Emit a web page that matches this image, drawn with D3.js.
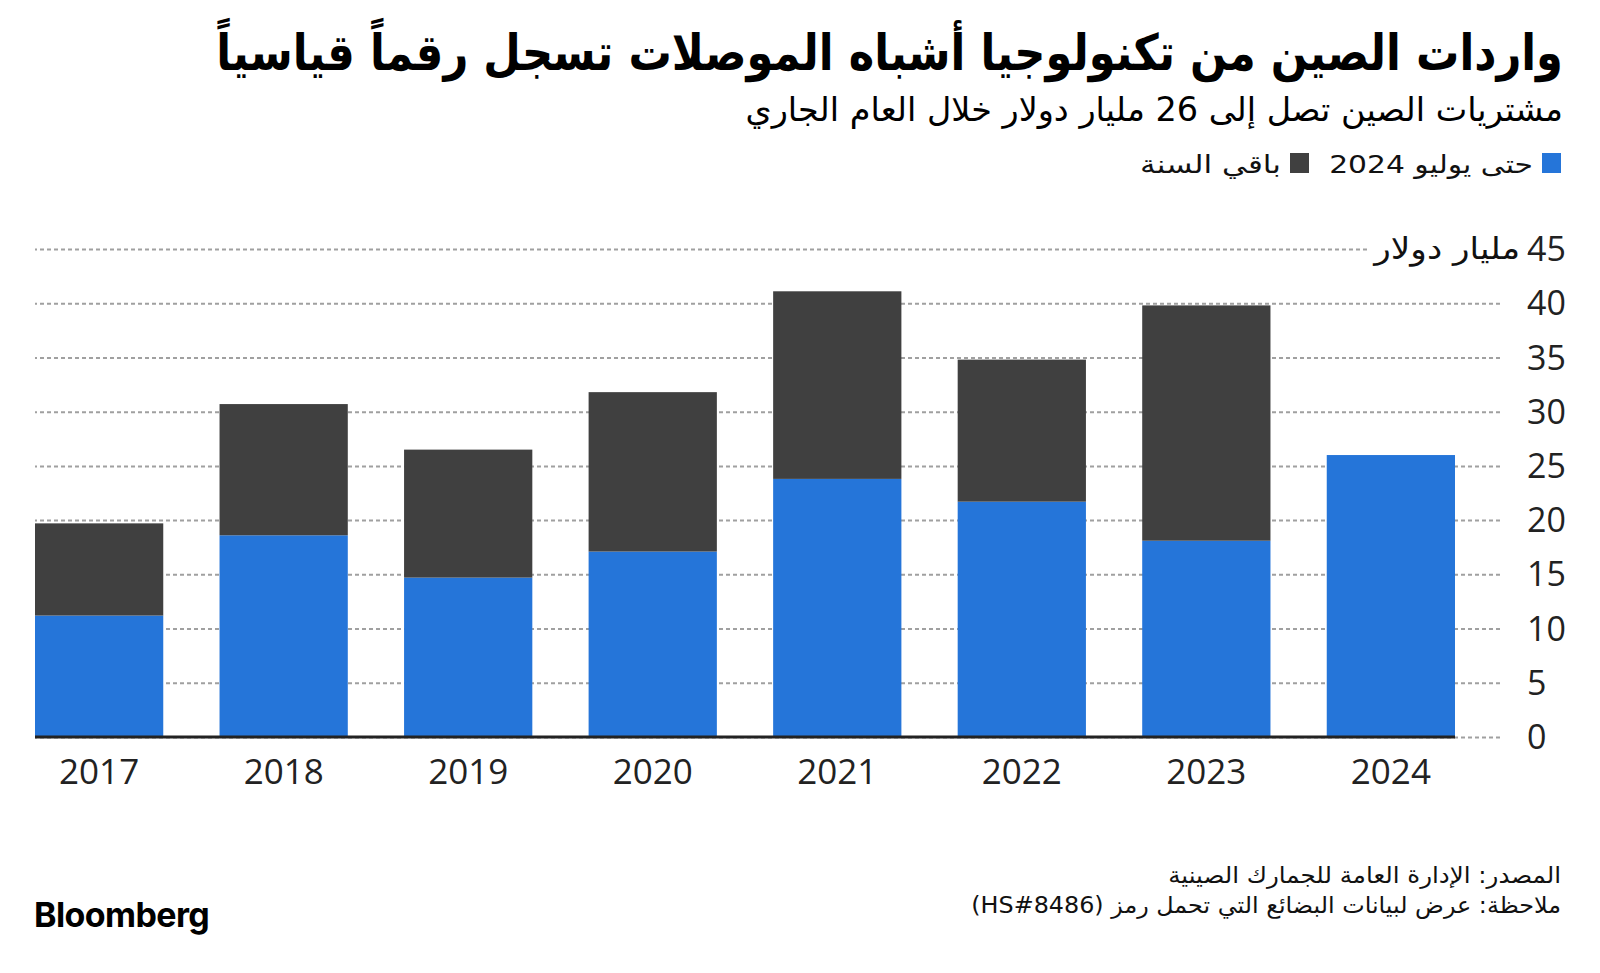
<!DOCTYPE html>
<html>
<head>
<meta charset="utf-8">
<script src="https://cdn.jsdelivr.net/npm/d3@7"></script>
<style>
  html, body { margin: 0; padding: 0; background: #fff; }
  svg { display: block; }
  .ar { font-family: "DejaVu Sans", sans-serif; }
  .num { font-family: "Open Sans", "Noto Sans", sans-serif; }
</style>
</head>
<body>
<svg id="chart" width="1600" height="973"></svg>
<script>
// ---- data ----
const years = ["2017", "2018", "2019", "2020", "2021", "2022", "2023", "2024"];
const throughJuly = [11.2, 18.6, 14.7, 17.1, 23.8, 21.7, 18.1, 26.0];
const restOfYear  = [8.5, 12.1, 11.8, 14.7, 17.3, 13.1, 21.7, 0];
const yTicks = [0, 5, 10, 15, 20, 25, 30, 35, 40, 45];
const seriesNames = ["حتى يوليو 2024", "باقي السنة"];
const titleText = "واردات الصين من تكنولوجيا أشباه الموصلات تسجل رقماً قياسياً";
const subtitleText = "مشتريات الصين تصل إلى 26 مليار دولار خلال العام الجاري";
const unitText = "مليار دولار";
const sourceText = "المصدر: الإدارة العامة للجمارك الصينية";
const noteText = "ملاحظة: عرض لبيانات البضائع التي تحمل رمز (HS#8486)";

const colors = ["#2575D9", "#404040"];

const svg = d3.select("#chart");

// ---- helper for fitting RTL text into a measured width, right-aligned ----
function fitText(txt, right, baseline, size, weight, targetW, color) {
  const g = svg.append("g");
  const t = g.append("text").attr("class", "ar").attr("direction", "rtl")
    .attr("unicode-bidi", "embed").attr("x", 0).attr("y", 0)
    .attr("font-size", size).attr("font-weight", weight).attr("fill", color).text(txt);
  const b = t.node().getBBox();
  const s = targetW ? targetW / b.width : 1;
  g.attr("transform", `translate(${right - s * (b.x + b.width)},${baseline}) scale(${s},1)`);
  return { g, b, s };
}

// ---- scales ----
const plotLeft = 35, plotRight = 1455, gridRight = 1500;
const y = d3.scaleLinear().domain([0, 45]).range([737, 249]);
const x = d3.scaleBand().domain(years).range([plotLeft, plotRight]).paddingInner(0.305).paddingOuter(0);

// ---- grid / y axis ----
const yAxis = d3.axisRight(y).tickValues(yTicks).tickSize(-(gridRight - plotLeft)).tickPadding(27);
const gy = svg.append("g").attr("transform", `translate(${gridRight},0)`).call(yAxis);
gy.select(".domain").remove();
gy.selectAll(".tick line").attr("stroke", "#a0a0a0").attr("stroke-width", 2).attr("stroke-dasharray", "4,3");
gy.selectAll(".tick text").attr("class", "num").attr("font-size", 34).attr("fill", "#222").attr("dy", "0.34em");

// unit label next to the top tick (with white backing that interrupts the grid line)
const topTickY = y(45);
const unitBg = svg.append("rect").attr("fill", "#fff");
fitText(unitText, 1520, topTickY + 10, 30, "normal", 148, "#111");
unitBg.attr("x", 1368).attr("y", topTickY - 4).attr("width", 160).attr("height", 8);

// ---- stacked bars ----
const stackData = years.map((yr, i) => ({ year: yr, a: throughJuly[i], b: restOfYear[i] }));
const stack = d3.stack().keys(["a", "b"])(stackData);
svg.append("g").selectAll("g").data(stack).join("g")
  .attr("fill", (d, i) => colors[i])
  .selectAll("rect").data(d => d).join("rect")
  .attr("x", d => x(d.data.year))
  .attr("width", x.bandwidth())
  .attr("y", d => y(d[1]))
  .attr("height", d => Math.max(0, y(d[0]) - y(d[1])));

// baseline
svg.append("line").attr("x1", plotLeft).attr("x2", plotRight).attr("y1", y(0)).attr("y2", y(0))
  .attr("stroke", "#222").attr("stroke-width", 3);

// ---- x axis ----
const xAxis = d3.axisBottom(x).tickSize(0).tickPadding(22);
const gx = svg.append("g").attr("transform", `translate(0,${y(0)})`).call(xAxis);
gx.select(".domain").remove();
gx.selectAll(".tick text").attr("class", "num").attr("font-size", 35).attr("fill", "#222");

// title & subtitle
fitText(titleText, 1563, 70, 50, "bold", 1347, "#000");
fitText(subtitleText, 1563, 121, 33, "normal", 818, "#000");

// ---- legend ----
const legendX = [1561, 1309];
const legendW = [204, 141];
seriesNames.forEach((name, i) => {
  svg.append("rect").attr("x", legendX[i] - 19).attr("y", 153).attr("width", 19).attr("height", 20).attr("fill", colors[i]);
  fitText(name, legendX[i] - 28, 173, 25, "normal", legendW[i], "#111");
});

// ---- footer ----
fitText(sourceText, 1561, 883, 23, "normal", 393, "#111");
fitText(noteText, 1561, 913, 23, "normal", 590, "#111");

svg.append("text").attr("x", 34).attr("y", 927)
  .attr("font-family", "Inter, 'Open Sans', sans-serif").attr("font-weight", 700)
  .attr("font-size", 34).attr("letter-spacing", -0.6).attr("fill", "#000").text("Bloomberg");
</script>
</body>
</html>
